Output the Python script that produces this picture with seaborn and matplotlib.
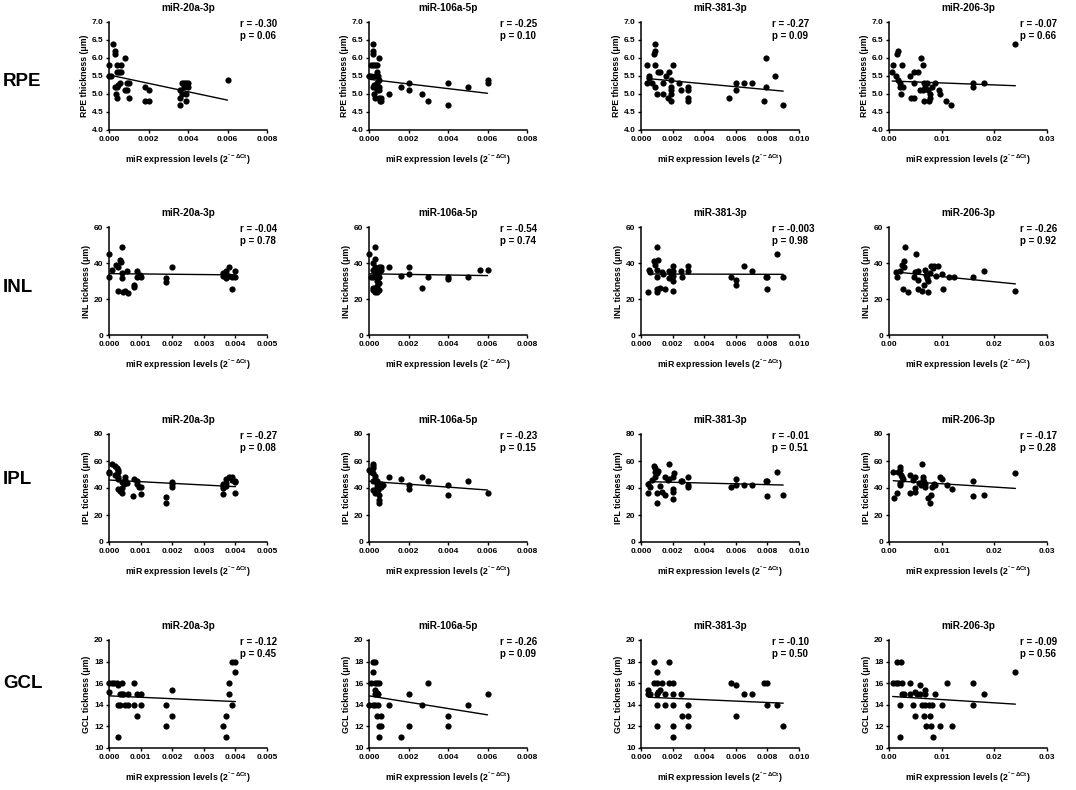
import numpy as np
import pandas as pd
import matplotlib
matplotlib.use("Agg")
import matplotlib.pyplot as plt
import seaborn as sns

# ---------------- data ----------------
row_names = ["RPE", "INL", "IPL", "GCL"]
mir_names = ["miR-20a-3p", "miR-106a-5p", "miR-381-3p", "miR-206-3p"]
y_labels = ["RPE thickness (\u03bcm)", "INL tickness (\u03bcm)",
            "IPL tickness (\u03bcm)", "GCL tickness (\u03bcm)"]

r_values = [["-0.30", "-0.25", "-0.27", "-0.07"],
            ["-0.04", "-0.54", "-0.003", "-0.26"],
            ["-0.27", "-0.23", "-0.01", "-0.17"],
            ["-0.12", "-0.26", "-0.10", "-0.09"]]
p_values = [["0.06", "0.10", "0.09", "0.66"],
            ["0.78", "0.74", "0.98", "0.92"],
            ["0.08", "0.15", "0.51", "0.28"],
            ["0.45", "0.09", "0.50", "0.56"]]

# y axis ranges (min, max, step) per row
y_ranges = [(4.0, 7.0, 0.5), (0, 60, 20), (0, 80, 20), (10, 20, 2)]
# x axis (max, step) per row / column
x_ranges = [[(0.008, 0.002), (0.008, 0.002), (0.010, 0.002), (0.03, 0.01)],
            [(0.005, 0.001), (0.008, 0.002), (0.010, 0.002), (0.03, 0.01)],
            [(0.005, 0.001), (0.008, 0.002), (0.010, 0.002), (0.03, 0.01)],
            [(0.005, 0.001), (0.008, 0.002), (0.010, 0.002), (0.03, 0.01)]]

rpe_20a = [(0, 5.8), (0, 5.5), (0.0001, 5.5), (0.0002, 6.4), (0.0003, 6.2), (0.0003, 6.1),
           (0.0003, 5.2), (0.00035, 5.0), (0.0004, 4.9), (0.0004, 5.2), (0.0004, 5.6),
           (0.00045, 5.25), (0.0004, 5.8), (0.0006, 5.8), (0.00055, 5.3), (0.0005, 5.6),
           (0.0006, 5.6), (0.0008, 6.0), (0.0008, 5.1), (0.0009, 5.1), (0.0009, 5.3),
           (0.001, 5.3), (0.001, 4.9), (0.0018, 5.2), (0.0018, 4.8), (0.002, 5.1), (0.002, 4.8),
           (0.0036, 5.1), (0.0036, 4.9), (0.0036, 4.7), (0.0037, 5.3), (0.0038, 5.3),
           (0.0039, 5.3), (0.0037, 5.0), (0.0039, 5.0), (0.0039, 4.8), (0.004, 5.2),
           (0.004, 5.3), (0.0038, 5.2), (0.006, 5.4)]
rpe_106a = [(0, 5.5), (0.0001, 5.8), (0.0001, 5.5), (0.0002, 6.4), (0.0002, 6.2), (0.0002, 6.1),
            (0.0002, 5.8), (0.0003, 5.8), (0.0004, 5.8), (0.0002, 5.2), (0.00025, 5.25),
            (0.0003, 5.5), (0.0004, 5.6), (0.00045, 5.5), (0.0005, 6.0), (0.00025, 5.0),
            (0.0003, 4.9), (0.0004, 5.3), (0.0005, 5.4), (0.0005, 5.2), (0.0004, 5.1),
            (0.0005, 5.1), (0.0005, 4.9), (0.00055, 4.8), (0.0006, 4.9), (0.0006, 4.8),
            (0.001, 5.0), (0.0016, 5.2), (0.002, 5.3), (0.002, 5.1), (0.0027, 5.0), (0.003, 4.8),
            (0.004, 5.3), (0.004, 4.7), (0.005, 5.2), (0.006, 5.4), (0.006, 5.3)]
rpe_381 = [(0.0004, 5.8), (0.0004, 5.3), (0.0005, 5.5), (0.0005, 5.45), (0.0007, 5.3),
           (0.0008, 6.1), (0.0009, 6.2), (0.0009, 6.4), (0.0009, 5.8), (0.0009, 5.2),
           (0.001, 5.0), (0.0011, 5.6), (0.0012, 5.6), (0.0014, 5.3), (0.0014, 5.0),
           (0.0016, 5.5), (0.0017, 4.9), (0.0018, 5.6), (0.0019, 5.4), (0.002, 5.8),
           (0.0019, 5.2), (0.0019, 5.1), (0.0019, 5.0), (0.0019, 4.8), (0.0024, 5.3),
           (0.0025, 5.1), (0.003, 5.2), (0.003, 5.1), (0.003, 4.9), (0.003, 4.8), (0.0056, 4.9),
           (0.006, 5.3), (0.006, 5.1), (0.0065, 5.3), (0.007, 5.3), (0.0078, 4.8), (0.0079, 6.0),
           (0.0079, 5.2), (0.0085, 5.5), (0.009, 4.7)]
rpe_206 = [(0.0007, 5.8), (0.0006, 5.6), (0.0013, 5.5), (0.0015, 6.1), (0.0018, 6.2),
           (0.0017, 5.4), (0.002, 5.3), (0.002, 5.2), (0.0022, 5.0), (0.0024, 5.8),
           (0.0027, 5.2), (0.0039, 5.5), (0.0042, 4.9), (0.0047, 4.9), (0.0047, 5.6),
           (0.0047, 5.3), (0.0056, 5.6), (0.0059, 5.1), (0.006, 6.0), (0.0064, 5.8),
           (0.0064, 5.1), (0.0066, 5.3), (0.0066, 4.8), (0.0068, 5.2), (0.0072, 5.3),
           (0.0074, 5.1), (0.0075, 4.8), (0.0077, 4.9), (0.0078, 5.0), (0.0082, 5.2),
           (0.0088, 5.3), (0.0094, 5.1), (0.0097, 5.0), (0.0108, 4.8), (0.0118, 4.7),
           (0.016, 5.3), (0.016, 5.2), (0.018, 5.3), (0.024, 6.4)]

inl_20a = [(0, 45), (0, 32), (0.0001, 36), (0.00023, 38.7), (0.00028, 37.6), (0.00027, 24.7),
           (0.00034, 41.5), (0.00037, 40.6), (0.0004, 48.7), (0.0004, 34.5), (0.0004, 31.7),
           (0.00043, 24), (0.0005, 24.4), (0.00056, 35.8), (0.00059, 23.4), (0.00078, 26.6),
           (0.00078, 28), (0.00088, 35.8), (0.0009, 32), (0.00098, 33.6), (0.001, 32),
           (0.0018, 31.7), (0.0018, 29.5), (0.002, 37.6), (0.0036, 32.7), (0.0036, 34.5),
           (0.0037, 35.8), (0.0037, 33.6), (0.0037, 31.7), (0.0038, 37.6), (0.0038, 32.7),
           (0.0039, 25.8), (0.0039, 32), (0.004, 35.8), (0.004, 32)]
inl_106a = [(0, 45), (0.0001, 32), (0.0002, 36), (0.0002, 40), (0.0003, 49), (0.0003, 42),
            (0.0003, 38), (0.0004, 36), (0.0004, 34), (0.0002, 25), (0.0002, 26), (0.0003, 24),
            (0.0003, 25), (0.0004, 24), (0.0004, 27), (0.0005, 38), (0.0005, 35), (0.0005, 32),
            (0.0005, 29), (0.0004, 30), (0.0003, 33), (0.0002, 32), (0.0006, 38), (0.0006, 36),
            (0.0005, 25), (0.001, 38), (0.0016, 33), (0.002, 38), (0.002, 34), (0.0027, 26),
            (0.003, 32), (0.004, 32), (0.004, 31), (0.005, 32), (0.0056, 36), (0.006, 36)]
inl_381 = [(0.00047, 24), (0.0005, 36), (0.0006, 35), (0.0008, 41), (0.0009, 38.7), (0.001, 48.7),
           (0.001, 32), (0.001, 36.3), (0.001, 23.8), (0.001, 25.3), (0.0011, 41.9),
           (0.0012, 26.2), (0.0013, 35), (0.0014, 34), (0.0015, 25.8), (0.0018, 31.7),
           (0.0018, 35.8), (0.0019, 34), (0.002, 38.2), (0.002, 30), (0.002, 24.7),
           (0.002, 32.7), (0.002, 35.8), (0.0025, 35.8), (0.0026, 32), (0.003, 38.2),
           (0.003, 35.8), (0.0057, 32), (0.006, 30.8), (0.006, 27.7), (0.0065, 38.2),
           (0.007, 35.8), (0.0079, 32), (0.008, 32), (0.008, 25.8), (0.0086, 45), (0.009, 32)]
inl_206 = [(0.0013, 35), (0.0015, 32), (0.002, 35.8), (0.0024, 38.7), (0.0026, 25.8),
           (0.0029, 41.3), (0.003, 48.7), (0.0028, 37.6), (0.0036, 24), (0.0047, 32),
           (0.005, 35), (0.0051, 45), (0.0055, 25.8), (0.0056, 30.8), (0.0056, 35.8),
           (0.0063, 24.7), (0.0066, 28), (0.0069, 36.3), (0.0071, 33.6), (0.0072, 31.7),
           (0.0074, 24), (0.0074, 30), (0.0078, 34.5), (0.008, 38.2), (0.0083, 37.3),
           (0.0086, 38.2), (0.009, 32.7), (0.0093, 38.2), (0.010, 34), (0.0103, 25.8),
           (0.0114, 32), (0.0123, 32), (0.016, 32), (0.018, 35.8), (0.024, 24.7)]

ipl_20a = [(0, 52), (0, 51), (0.0001, 58), (0.0002, 56), (0.00024, 54.6), (0.00027, 53.3),
           (0.0003, 52), (0.0002, 49.6), (0.0003, 48), (0.00027, 46.4), (0.0003, 39),
           (0.00035, 38), (0.0004, 36.5), (0.0004, 39.7), (0.0004, 44.7), (0.00048, 43),
           (0.0005, 46), (0.0005, 48), (0.00058, 44), (0.00077, 34), (0.0008, 47),
           (0.00088, 45.4), (0.0009, 43), (0.00095, 41), (0.001, 41), (0.001, 35.3),
           (0.0018, 33), (0.0018, 29), (0.002, 44.7), (0.002, 43), (0.002, 41), (0.0036, 35.5),
           (0.0036, 39.7), (0.0036, 43), (0.0037, 46.4), (0.0037, 44), (0.0038, 48),
           (0.0039, 48), (0.0039, 46), (0.004, 45.4), (0.004, 44.7), (0.004, 36.5),
           (0.0037, 41.5), (0.0036, 41.5)]
ipl_106a = [(0, 53), (0.0001, 52), (0.0002, 58), (0.0002, 56), (0.0002, 55), (0.0002, 51),
            (0.0003, 49), (0.0003, 47), (0.0002, 45), (0.0002, 38.5), (0.0003, 38), (0.0003, 36),
            (0.0004, 45), (0.0004, 43), (0.0004, 41), (0.00045, 38.5), (0.0005, 35), (0.0005, 31),
            (0.0005, 29), (0.0006, 43), (0.0006, 41), (0.0007, 42), (0.001, 48), (0.0016, 47),
            (0.002, 42), (0.002, 39), (0.0027, 48), (0.003, 45), (0.004, 42), (0.004, 35),
            (0.005, 45), (0.006, 36)]
ipl_381 = [(0.00047, 36.5), (0.00047, 43), (0.0006, 40.5), (0.0007, 46), (0.0008, 56),
           (0.0009, 55), (0.0009, 52), (0.001, 51), (0.0009, 48), (0.001, 36), (0.001, 29),
           (0.0011, 52.6), (0.0012, 41.7), (0.0013, 37.3), (0.0015, 34.8), (0.0015, 48),
           (0.0017, 46), (0.0018, 58), (0.0018, 47), (0.002, 48), (0.002, 39), (0.002, 37.3),
           (0.002, 32), (0.0021, 51), (0.0025, 45), (0.0026, 45), (0.003, 48), (0.003, 42),
           (0.003, 40.5), (0.0057, 41), (0.006, 47), (0.006, 42), (0.0065, 42), (0.007, 42),
           (0.0079, 45), (0.008, 45), (0.008, 34), (0.0086, 52), (0.009, 35)]
ipl_206 = [(0.0008, 52), (0.001, 32.3), (0.0015, 36), (0.0018, 52), (0.002, 55.8), (0.0021, 53.3),
           (0.002, 42), (0.0021, 44), (0.0023, 49.4), (0.0024, 48), (0.0026, 46.4), (0.004, 50),
           (0.004, 36), (0.0045, 46), (0.0049, 48), (0.005, 39.7), (0.005, 37.3), (0.0057, 43.5),
           (0.006, 42), (0.0062, 58), (0.0064, 48), (0.0065, 46), (0.0067, 44.7), (0.0068, 43),
           (0.0069, 41), (0.0074, 32.3), (0.0077, 29), (0.008, 34.8), (0.0081, 41),
           (0.0085, 43), (0.0088, 42), (0.0096, 48), (0.01, 47), (0.011, 42), (0.012, 39),
           (0.016, 45), (0.016, 34), (0.018, 34.8), (0.024, 51)]

gcl_20a = [(0, 16), (0, 15.2), (0.0001, 16), (0.00015, 16), (0.00026, 16), (0.0003, 15.8),
           (0.0004, 16), (0.0003, 14), (0.00035, 14), (0.00035, 15), (0.0004, 15), (0.00045, 15),
           (0.0003, 11), (0.0005, 14), (0.0006, 14), (0.0006, 15), (0.0008, 16), (0.0008, 14),
           (0.0009, 15), (0.001, 15), (0.0009, 13), (0.001, 14), (0.0018, 14), (0.0018, 12),
           (0.002, 15.4), (0.002, 13), (0.0036, 12), (0.0037, 13), (0.0037, 11), (0.0038, 16),
           (0.0038, 15), (0.0039, 14), (0.0039, 18), (0.004, 18), (0.004, 17)]
gcl_106a = [(0, 14), (0.0002, 14), (0.0003, 14), (0.0002, 18), (0.0003, 18), (0.0002, 17),
            (0.0001, 16), (0.0003, 16), (0.0004, 16), (0.0005, 16), (0.0003, 15.4), (0.0003, 15),
            (0.0004, 15.1), (0.00045, 15), (0.00048, 14), (0.0004, 13), (0.0006, 13),
            (0.0005, 12), (0.0006, 12), (0.0005, 11), (0.001, 14), (0.0016, 11), (0.002, 15),
            (0.002, 12), (0.0027, 14), (0.003, 16), (0.004, 13), (0.004, 12), (0.005, 14),
            (0.006, 15)]
gcl_381 = [(0.00047, 15.4), (0.00047, 15), (0.0006, 15), (0.0008, 18), (0.0008, 16), (0.001, 16),
           (0.001, 17), (0.001, 15), (0.001, 14), (0.001, 12), (0.0011, 15.2), (0.0012, 15.4),
           (0.0013, 16), (0.0015, 15), (0.0015, 14), (0.0018, 18), (0.0018, 16), (0.002, 16),
           (0.002, 15), (0.002, 14), (0.002, 12), (0.002, 11), (0.0025, 15), (0.0026, 13),
           (0.003, 14), (0.003, 13), (0.003, 12), (0.0057, 16), (0.006, 15.8), (0.006, 13),
           (0.0065, 15), (0.007, 15), (0.0078, 16), (0.008, 16), (0.008, 14), (0.0086, 14),
           (0.009, 12)]
gcl_206 = [(0.0007, 16), (0.0013, 16), (0.0015, 18), (0.0022, 18), (0.0018, 16), (0.0024, 16),
           (0.0021, 14), (0.002, 11), (0.0024, 15), (0.0029, 15), (0.004, 16), (0.004, 15),
           (0.0045, 14), (0.005, 13), (0.005, 15.2), (0.0053, 15), (0.0059, 15.8), (0.0059, 15),
           (0.0062, 14), (0.0066, 13), (0.0068, 15.4), (0.0069, 15), (0.0069, 14), (0.007, 12),
           (0.0075, 14), (0.0078, 13), (0.008, 12), (0.0083, 11), (0.0081, 14), (0.0088, 15),
           (0.0096, 12), (0.01, 14), (0.011, 16), (0.012, 12), (0.016, 16), (0.016, 14),
           (0.018, 15), (0.024, 17)]

panel_data = [[rpe_20a, rpe_106a, rpe_381, rpe_206],
              [inl_20a, inl_106a, inl_381, inl_206],
              [ipl_20a, ipl_106a, ipl_381, ipl_206],
              [gcl_20a, gcl_106a, gcl_381, gcl_206]]

# fitted regression line values (y at the smallest x, y at the largest x)
fit_lines = [[(5.53, 4.83), (5.41, 5.02), (5.43, 5.08), (5.36, 5.23)],
             [(34.1, 33.4), (34.0, 33.0), (33.9, 33.7), (35.0, 28.4)],
             [(45.9, 41.0), (45.0, 38.5), (44.7, 42.2), (45.4, 39.7)],
             [(14.83, 14.30), (14.83, 13.07), (14.70, 14.15), (14.77, 14.06)]]

# ---------------- style ----------------
sns.set_theme(style="ticks")
plt.rcParams["font.family"] = ["Liberation Sans", "DejaVu Sans"]
plt.rcParams["font.weight"] = "bold"
plt.rcParams["mathtext.fontset"] = "custom"
plt.rcParams["mathtext.rm"] = "Liberation Sans:bold"
plt.rcParams["mathtext.it"] = "Liberation Sans:bold"
plt.rcParams["mathtext.bf"] = "Liberation Sans:bold"

W, H = 1076, 790
fig = plt.figure(figsize=(W / 100, H / 100), dpi=100)
fig.patch.set_facecolor("white")

col_left = [109, 369, 641, 889]
row_top = [22, 227, 434, 640]
ax_w, ax_h = 158, 108
row_label_y = [82, 288, 480, 684]

xlabel_text = "miR expression levels (2$^{\\mathrm{\u02c6-\u0394Ct}}$)"

for i in range(4):
    fig.text(3 / W, 1 - row_label_y[i] / H, row_names[i], ha="left", va="center",
             fontsize=13.5, fontweight="bold", color="black")
    for j in range(4):
        pts = panel_data[i][j]
        df = pd.DataFrame(pts, columns=["expr", "thick"])
        ax = fig.add_axes([col_left[j] / W, 1 - (row_top[i] + ax_h) / H, ax_w / W, ax_h / H])
        ax.set_facecolor("white")
        sns.scatterplot(data=df, x="expr", y="thick", ax=ax, color="black",
                        s=20, edgecolor="black", linewidth=0, zorder=3, clip_on=False)
        xmin, xmax = df["expr"].min(), df["expr"].max()
        y0, y1 = fit_lines[i][j]
        ax.plot([xmin, xmax], [y0, y1], color="black", lw=1.0, zorder=2)

        ymn, ymx, ystep = y_ranges[i]
        ax.set_ylim(ymn, ymx)
        ax.set_yticks(np.arange(ymn, ymx + ystep / 2, ystep))
        xm, xs = x_ranges[i][j]
        ax.set_xlim(0, xm)
        ax.set_xticks(np.arange(0, xm + xs / 2, xs))
        ax.xaxis.set_major_formatter(matplotlib.ticker.FormatStrFormatter(
            "%.2f" if j == 3 else "%.3f"))
        ax.yaxis.set_major_formatter(matplotlib.ticker.FormatStrFormatter(
            "%.1f" if i == 0 else "%d"))

        for side in ["top", "right"]:
            ax.spines[side].set_visible(False)
        for side in ["left", "bottom"]:
            ax.spines[side].set_linewidth(1.1)
            ax.spines[side].set_color("black")
        ax.tick_params(axis="both", direction="out", length=2.5, width=1.0, color="black",
                       labelsize=6, pad=1.5, labelcolor="black")
        for lab in ax.get_xticklabels() + ax.get_yticklabels():
            lab.set_fontweight("bold")

        ax.set_title(mir_names[j], fontsize=7.2, fontweight="bold", pad=8, color="black")
        ax.set_xlabel(xlabel_text, fontsize=6.3, fontweight="bold", labelpad=7, color="black")
        ax.set_ylabel(y_labels[i], fontsize=6.3, fontweight="bold", labelpad=2, color="black")
        ax.text(0.83, 1.03, f"r = {r_values[i][j]}\np = {p_values[i][j]}",
                transform=ax.transAxes, ha="left", va="top", fontsize=7,
                fontweight="bold", linespacing=1.3, color="black")

fig.savefig("out.png", dpi=100, facecolor="white")
